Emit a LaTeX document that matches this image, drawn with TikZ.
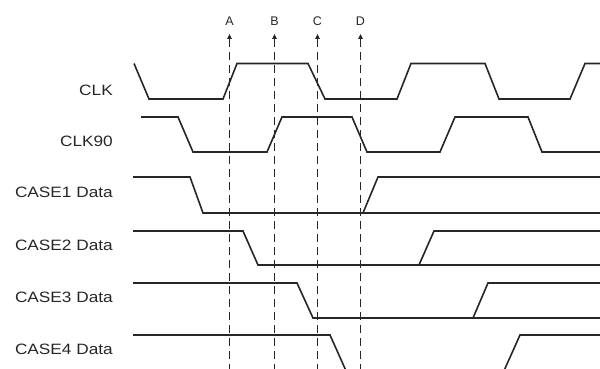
\documentclass[tikz,border=0pt]{standalone}
\usepackage{fontspec}
\setmainfont{Liberation Sans}
\usetikzlibrary{arrows.meta}
\begin{document}
\begin{tikzpicture}[x=1pt,y=-1pt,
  sig/.style={line width=1.6pt, draw=black!85, line join=miter},
  guide/.style={line width=1pt, draw=black!85, dash pattern=on 8pt off 5pt, -{Triangle[length=5pt,width=4.5pt]}},
  lab/.style={anchor=east, font=\fontsize{15}{15}\selectfont, text=black!85, inner sep=0pt},
  evlab/.style={font=\fontsize{12.5}{12.5}\selectfont, text=black!85, inner sep=0pt}]
\useasboundingbox (0,0) rectangle (600,369);
\clip (0,0) rectangle (600,369);
% signal labels
\node[lab] (clk)   at (113,90)  {\scalebox{1.15}[1]{CLK}};
\node[lab] (clk90) at (113,141) {\scalebox{1.15}[1]{CLK90}};
\node[lab] (c1)    at (113,192) {\scalebox{1.15}[1]{CASE1 Data}};
\node[lab] (c2)    at (113,245) {\scalebox{1.15}[1]{CASE2 Data}};
\node[lab] (c3)    at (113,297) {\scalebox{1.15}[1]{CASE3 Data}};
\node[lab] (c4)    at (113,349) {\scalebox{1.15}[1]{CASE4 Data}};
% event labels
\node[evlab] (A) at (229.5,21) {A};
\node[evlab] (B) at (274.5,21) {B};
\node[evlab] (C) at (317.5,21) {C};
\node[evlab] (D) at (360.5,21) {D};
\coordinate (Atip) at (229.5,34); \coordinate (Abot) at (229.5,372);
\coordinate (Btip) at (274.5,34); \coordinate (Bbot) at (274.5,372);
\coordinate (Ctip) at (317.5,34); \coordinate (Cbot) at (317.5,372);
\coordinate (Dtip) at (360.5,34); \coordinate (Dbot) at (360.5,372);
\draw[guide] (Abot) -- (Atip);
\draw[guide] (Bbot) -- (Btip);
\draw[guide] (Cbot) -- (Ctip);
\draw[guide] (Dbot) -- (Dtip);
% CLK
\draw[sig] (134,63.5) -- (149,99) -- (223,99) -- (237,63.5) -- (308,63.5) -- (325,99) -- (397,99) -- (411,63.5) -- (485,63.5) -- (499,99) -- (570,99) -- (585,63.5) -- (601,63.5);
% CLK90
\draw[sig] (141,117) -- (178,117) -- (193,152) -- (267,152) -- (282,117) -- (352,117) -- (367,152) -- (440,152) -- (455,117) -- (528,117) -- (542,152) -- (601,152);
% CASE1
\draw[sig] (133,177) -- (190,177) -- (203,213) -- (601,213);
\draw[sig] (363,213) -- (378,177) -- (601,177);
% CASE2
\draw[sig] (133,231) -- (243,231) -- (258,265) -- (601,265);
\draw[sig] (419,265) -- (434,231) -- (601,231);
% CASE3
\draw[sig] (133,283) -- (297,283) -- (313,318) -- (601,318);
\draw[sig] (473,318) -- (488,283) -- (601,283);
% CASE4
\draw[sig] (133,335) -- (330,335) -- (347,373);
\draw[sig] (503,373) -- (520,335) -- (601,335);
\end{tikzpicture}
\end{document}
